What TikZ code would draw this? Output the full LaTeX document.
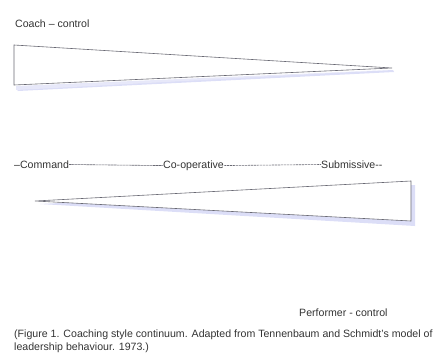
\documentclass[tikz,border=0pt]{standalone}
\usepackage{fontspec}
\setmainfont{Liberation Sans}
\usepackage{xcolor}
\usepackage{tikz}
\usetikzlibrary{positioning}

\definecolor{ombra}{RGB}{220,222,247}
\definecolor{bordo}{RGB}{105,105,115}

\begin{document}
\begin{tikzpicture}[x=1pt, y=-1pt,
    testo/.style={font=\fontsize{10.6}{12.6}\selectfont, text=black!80, inner sep=0pt},
    trattini/.style={dash pattern=on 2.4pt off 0.6pt, bordo, line width=0.6pt}]

  \useasboundingbox (0,0) rectangle (448,362);

  % 1. Cuneo superiore (controllo dell'allenatore)
  \fill[ombra] (16,88) -- (393,70) -- (394,72) -- (18,91) -- cycle;
  \fill[ombra!70] (16,86) -- (390,70) -- (16,90) -- cycle;
  \filldraw[fill=white, draw=bordo, line width=0.6pt] (14,45) -- (392,68) -- (14,85) -- cycle;
  \node[testo, anchor=base west] (coach) at (15,27) {Coach – control};

  % 2. Continuum degli stili
  \node[testo, anchor=base west] (command) at (14,168) {–Command};
  \node[testo, anchor=base west] (coop) at (163,168) {Co-operative};
  \node[testo, anchor=base west] (sub) at (321,168) {Submissive-{}-};
  \draw[trattini] ([yshift=-0.3pt]command.east) -- ([yshift=-0.3pt]coop.west);
  \draw[trattini] ([yshift=-0.3pt]coop.east) -- ([yshift=-0.3pt]sub.west);

  % 3. Cuneo inferiore (controllo dell'atleta)
  \fill[ombra] (40,204) -- (415,185) -- (415,226) -- cycle;
  \filldraw[fill=white, draw=bordo, line width=0.6pt] (35,201) -- (411,181) -- (411,221) -- cycle;
  \node[testo, anchor=base west] (performer) at (299,316) {Performer - control};

  % 4. Didascalia
  \node[testo, anchor=base west] (didascalia) at (14,337)
    {(Figure 1. Coaching style continuum. Adapted from Tennenbaum and Schmidt's model of};
  \node[testo, anchor=base west] (didascalia2) at (14,350) {leadership behaviour. 1973.)};

\end{tikzpicture}
\end{document}
